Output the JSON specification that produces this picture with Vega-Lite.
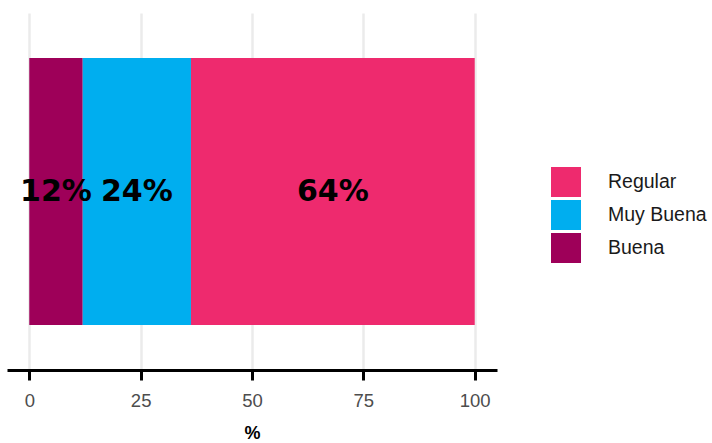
{
  "$schema": "https://vega.github.io/schema/vega-lite/v6.json",
  "width": 490,
  "height": 357,
  "autosize": "none",
  "padding": {"left": 7, "top": 13, "right": 215, "bottom": 73},
  "background": "white",
  "config": {"view": {"stroke": null}, "font": "Liberation Sans"},
  "data": {"values": [
    {"cat": "Buena", "pct": 12.0, "label": "12%", "g": "a"},
    {"cat": "Muy Buena", "pct": 24.3, "label": "24%", "g": "a"},
    {"cat": "Regular", "pct": 63.7, "label": "64%", "g": "a"}
  ]},
  "encoding": {
    "y": {"field": "g", "type": "nominal", "axis": null, "scale": {"paddingInner": 0, "paddingOuter": 0.1685}}
  },
  "layer": [
    {
      "mark": {"type": "bar"},
      "encoding": {
        "x": {"field": "pct", "type": "quantitative", "stack": "zero",
          "scale": {"domain": [-5, 105], "nice": false, "zero": false},
          "axis": {"values": [0, 25, 50, 75, 100], "title": "%", "grid": true, "gridColor": "#EBEBEB", "gridWidth": 2.5,
            "domainColor": "black", "domainWidth": 3, "tickColor": "black", "tickWidth": 3, "tickSize": 10,
            "labelFontSize": 18.5, "labelColor": "#4D4D4D", "labelPadding": 11, "labelFlush": false,
            "titleFontSize": 18, "titleFontWeight": "bold", "titleColor": "black", "titlePadding": 15}},
        "color": {"field": "cat", "type": "nominal", "title": null,
          "scale": {"domain": ["Regular", "Muy Buena", "Buena"], "range": ["#EE2A6E", "#00AEEF", "#9E0059"]},
          "legend": {"orient": "none", "legendX": 544, "legendY": 154, "symbolType": "square", "symbolSize": 900,
            "symbolStrokeWidth": 0, "symbolOpacity": 1, "labelFontSize": 19.5, "labelColor": "#1A1A1A", "labelOffset": 27, "rowPadding": 3}},
        "order": {"field": "cat", "sort": "ascending"}
      }
    },
    {
      "transform": [
        {"stack": "pct", "groupby": ["g"], "sort": [{"field": "cat", "order": "ascending"}], "as": ["x0", "x1"]},
        {"calculate": "(datum.x0 + datum.x1) / 2", "as": "xm"}
      ],
      "mark": {"type": "text", "font": "DejaVu Sans", "fontWeight": "bold", "fontSize": 30, "color": "black"},
      "encoding": {
        "x": {"field": "xm", "type": "quantitative"},
        "text": {"field": "label"}
      }
    }
  ]
}
